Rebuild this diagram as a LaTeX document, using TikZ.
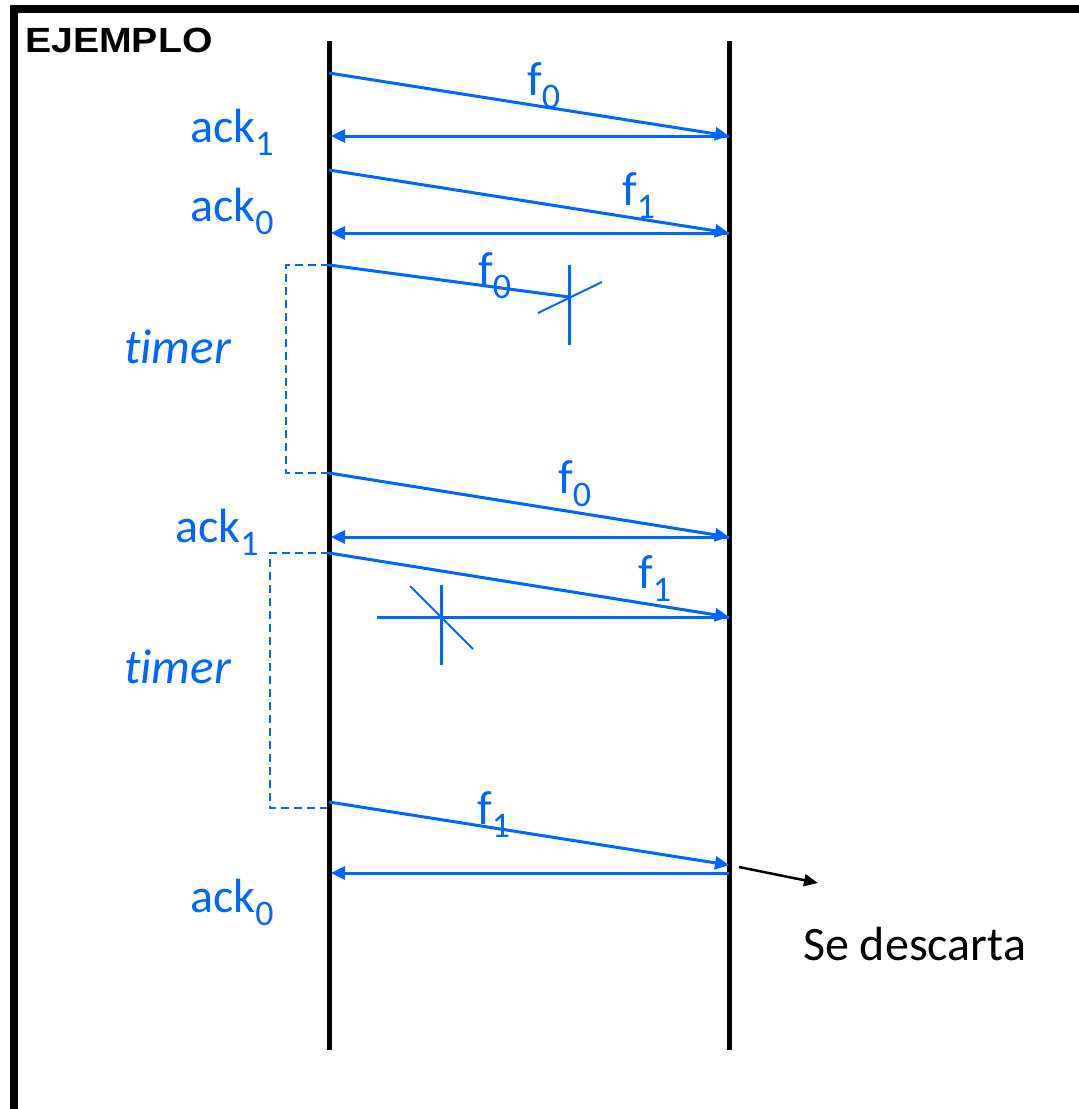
\documentclass[tikz,border=0pt]{standalone}
\usepackage{fontspec}
\setmainfont{Carlito}
\newfontfamily\headfont{Liberation Sans}
\newfontfamily\timerfont[Ligatures=NoCommon]{Carlito}
\usetikzlibrary{arrows.meta}
\definecolor{msgblue}{RGB}{0,102,255}
% lowered, smaller index after a label
\newcommand\lsub[1]{\raisebox{-13pt}{\fontsize{36}{36}\selectfont #1}}
\tikzset{
  lbl/.style={inner sep=0pt, anchor=base west, text=msgblue, font=\fontsize{48}{56}\selectfont},
  timerlbl/.style={lbl, font=\timerfont\itshape\fontsize{49}{56}\selectfont},
  msg/.style={draw=msgblue, line width=3pt, -{Triangle[length=14pt,width=13pt]}},
  lostmsg/.style={draw=msgblue, line width=3pt},
  crossbar/.style={draw=msgblue, line width=3pt},
  crossdiag/.style={draw=msgblue, line width=2pt},
  timerline/.style={draw=msgblue, line width=2pt, dash pattern=on 8pt off 5pt},
  lifeline/.style={draw=black, line width=5pt},
}
\begin{document}
\begin{tikzpicture}[x=1pt, y=-1pt]
  \useasboundingbox (0,0) rectangle (1079,1109);
  \clip (0,0) rectangle (1079,1109);

  % outer frame (only left and top edges are visible)
  \draw[line width=8pt] (13.5,1120) -- (13.5,9) -- (1090,9);
  \node[inner sep=0pt, anchor=base west, font=\headfont\bfseries\fontsize{35}{40}\selectfont]
    (title) at (25,52) {\scalebox{1.12}[1]{EJEMPLO}};

  % sender and receiver lifelines
  \coordinate (ltop) at (329.5,41);
  \coordinate (lbot) at (329.5,1050);
  \coordinate (rtop) at (729.5,41);
  \coordinate (rbot) at (729.5,1050);
  \draw[lifeline] (ltop) -- (lbot);
  \draw[lifeline] (rtop) -- (rbot);

  % event points on the lifelines
  \coordinate (s1) at (329,73);   \coordinate (r1) at (729,136);
  \coordinate (a1) at (331,136);
  \coordinate (s2) at (329,170);  \coordinate (r2) at (729,233);
  \coordinate (a2) at (331,233);
  \coordinate (s3) at (329,265);  \coordinate (x1) at (569,297);
  \coordinate (s4) at (329,473);  \coordinate (r4) at (729,537);
  \coordinate (a4) at (331,537);
  \coordinate (s5) at (329,553);  \coordinate (r5) at (729,617);
  \coordinate (lostend) at (377,617);
  \coordinate (s6) at (329,802);  \coordinate (r6) at (729,865);
  \coordinate (q6) at (729,873);  \coordinate (a6) at (331,873);

  % frames and acknowledgements
  \draw[msg] (s1) -- (r1);
  \draw[msg] (r1) -- (a1);
  \draw[msg] (s2) -- (r2);
  \draw[msg] (r2) -- (a2);
  \draw[lostmsg] (s3) -- (x1);
  \draw[msg] (s4) -- (r4);
  \draw[msg] (r4) -- (a4);
  \draw[msg] (s5) -- (r5);
  \draw[lostmsg] (r5) -- (lostend);
  \draw[msg] (s6) -- (r6);
  \draw[msg] (q6) -- (a6);

  % loss marks
  \coordinate (c1a) at (569,265); \coordinate (c1b) at (569,345);
  \coordinate (c1c) at (538,313); \coordinate (c1d) at (602,282);
  \draw[crossbar] (c1a) -- (c1b);
  \draw[crossdiag] (c1c) -- (c1d);
  \coordinate (c2a) at (441,585); \coordinate (c2b) at (441,665);
  \coordinate (c2c) at (410,586); \coordinate (c2d) at (473,649);
  \draw[crossbar] (c2a) -- (c2b);
  \draw[crossdiag] (c2c) -- (c2d);

  % timeout brackets
  \coordinate (t1) at (286,473);
  \draw[timerline] (s3) -| (t1) -- (s4);
  \coordinate (t2) at (270,808);
  \coordinate (t2end) at (327,808);
  \draw[timerline] (s5) -| (t2) -- (t2end);

  % discard note
  \coordinate (d0) at (739,867);
  \coordinate (d1) at (818,883);
  \draw[line width=2.5pt, -{Triangle[length=14pt,width=12pt]}] (d0) -- (d1);
  \node[inner sep=0pt, anchor=base west, font=\fontsize{48}{56}\selectfont] (discard) at (803,960) {Se descarta};

  % frame labels
  \node[lbl] (f0a) at (527,95)  {f\lsub{0}};
  \node[lbl] (f1a) at (622,205) {f\lsub{1}};
  \node[lbl] (f0b) at (478,285) {f\lsub{0}};
  \node[lbl] (f0c) at (558,493) {f\lsub{0}};
  \node[lbl] (f1b) at (638,588) {f\lsub{1}};
  \node[lbl] (f1c) at (477,824) {f\lsub{1}};

  % acknowledgement and timer labels
  \node[lbl] (ack1a) at (190,142) {ack\lsub{1}};
  \node[lbl] (ack0a) at (190,221) {ack\lsub{0}};
  \node[timerlbl] (tima) at (124,363) {timer};
  \node[lbl] (ack1b) at (175,542) {ack\lsub{1}};
  \node[timerlbl] (timb) at (124,683) {timer};
  \node[lbl] (ack0b) at (190,912) {ack\lsub{0}};
\end{tikzpicture}
\end{document}
